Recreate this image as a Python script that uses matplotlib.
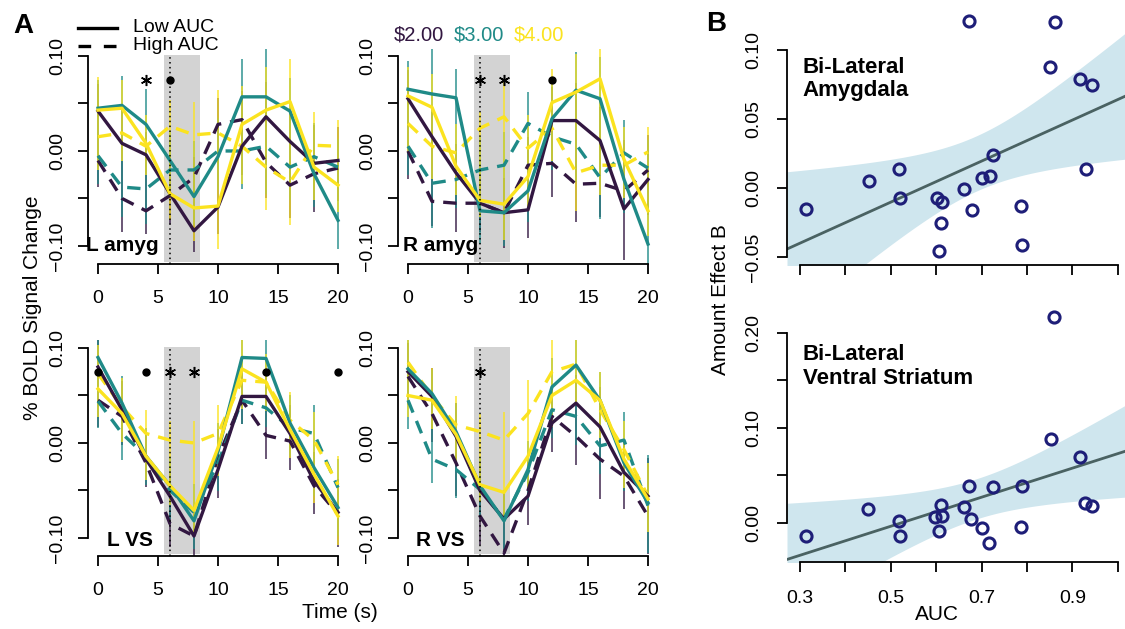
import numpy as np
import matplotlib.pyplot as plt
from matplotlib.lines import Line2D

plt.rcParams["font.family"] = ["Liberation Sans", "DejaVu Sans"]

W, H = 1125, 629

# =============================================================================
# Data
# =============================================================================

time_s = [0, 2, 4, 6, 8, 10, 12, 14, 16, 18, 20]
amounts = ["$2.00", "$3.00", "$4.00"]
amount_colors = ["#321741", "#1f8a87", "#fbe31f"]

# rows follow `amounts`: $2.00, $3.00, $4.00
l_amyg_low = [
    [0.042, 0.008, -0.004, -0.045, -0.084, -0.059, 0.005, 0.036, 0.010, -0.013, -0.010],
    [0.045, 0.048, 0.028, -0.010, -0.048, -0.006, 0.057, 0.057, 0.042, -0.024, -0.073],
    [0.043, 0.045, 0.008, -0.045, -0.060, -0.058, 0.028, 0.043, 0.052, -0.017, -0.036],
]
l_amyg_high = [
    [-0.010, -0.050, -0.063, -0.047, -0.028, 0.028, 0.033, -0.012, -0.036, -0.024, -0.018],
    [-0.005, -0.038, -0.040, -0.020, -0.020, 0.000, 0.000, 0.005, -0.017, -0.006, -0.017],
    [0.015, 0.019, 0.005, 0.026, 0.017, 0.019, 0.005, -0.017, -0.033, 0.006, 0.005],
]
l_amyg_sem = [
    [0.028, 0.035, 0.024, 0.030, 0.022, 0.028, 0.030, 0.037, 0.035, 0.040, 0.035],
    [0.030, 0.031, 0.037, 0.030, 0.030, 0.035, 0.040, 0.050, 0.035, 0.035, 0.030],
    [0.035, 0.030, 0.030, 0.028, 0.035, 0.045, 0.040, 0.045, 0.045, 0.035, 0.028],
]

r_amyg_low = [
    [0.055, 0.015, -0.023, -0.055, -0.065, -0.062, 0.032, 0.032, 0.011, -0.061, -0.030],
    [0.065, 0.060, 0.056, -0.063, -0.065, -0.042, 0.034, 0.064, 0.055, -0.030, -0.098],
    [0.058, 0.046, -0.016, -0.052, -0.056, -0.027, 0.051, 0.062, 0.076, -0.009, -0.063],
]
r_amyg_high = [
    [0.000, -0.053, -0.055, -0.055, -0.065, -0.015, -0.013, -0.035, -0.034, -0.042, -0.020],
    [0.005, -0.034, -0.030, -0.020, -0.015, 0.029, 0.015, 0.007, -0.028, -0.002, -0.018],
    [0.029, 0.005, -0.002, 0.024, 0.036, 0.003, 0.024, -0.023, -0.015, -0.015, -0.001],
]
r_amyg_sem = [
    [0.030, 0.026, 0.030, 0.030, 0.037, 0.030, 0.035, 0.040, 0.035, 0.054, 0.037],
    [0.030, 0.047, 0.030, 0.035, 0.035, 0.033, 0.035, 0.040, 0.044, 0.035, 0.030],
    [0.030, 0.035, 0.030, 0.017, 0.038, 0.035, 0.035, 0.040, 0.031, 0.034, 0.026],
]

l_vs_low = [
    [0.080, 0.035, -0.017, -0.056, -0.098, -0.028, 0.049, 0.049, 0.010, -0.040, -0.073],
    [0.090, 0.042, -0.014, -0.045, -0.082, -0.009, 0.090, 0.089, 0.021, -0.026, -0.068],
    [0.057, 0.031, -0.014, -0.045, -0.071, -0.005, 0.078, 0.064, 0.014, -0.033, -0.077],
]
l_vs_high = [
    [0.045, 0.028, -0.021, -0.085, -0.098, -0.015, 0.045, 0.008, 0.002, -0.045, -0.075],
    [0.044, 0.010, -0.014, -0.050, -0.073, -0.021, 0.045, 0.037, 0.016, 0.010, -0.047],
    [0.073, 0.038, 0.010, 0.003, 0.000, 0.010, 0.066, 0.064, 0.024, 0.003, -0.044],
]
l_vs_sem = [
    [0.028, 0.030, 0.025, 0.025, 0.025, 0.030, 0.025, 0.025, 0.030, 0.030, 0.035],
    [0.028, 0.028, 0.030, 0.030, 0.030, 0.030, 0.025, 0.020, 0.030, 0.030, 0.030],
    [0.030, 0.030, 0.025, 0.020, 0.023, 0.030, 0.030, 0.030, 0.030, 0.030, 0.030],
]

r_vs_low = [
    [0.075, 0.049, 0.007, -0.050, -0.080, -0.056, 0.021, 0.042, 0.017, -0.031, -0.056],
    [0.078, 0.052, 0.012, -0.045, -0.082, -0.028, 0.059, 0.082, 0.045, -0.021, -0.063],
    [0.050, 0.045, 0.009, -0.044, -0.052, -0.014, 0.050, 0.066, 0.045, -0.017, -0.059],
]
r_vs_high = [
    [0.070, 0.031, -0.021, -0.077, -0.116, -0.050, 0.028, 0.007, -0.017, -0.035, -0.077],
    [0.045, -0.017, -0.028, -0.049, -0.080, -0.031, 0.035, 0.028, -0.003, 0.003, -0.066],
    [0.085, 0.049, 0.019, 0.012, 0.003, 0.031, 0.075, 0.083, 0.035, -0.007, -0.056],
]
r_vs_sem = [
    [0.030, 0.030, 0.035, 0.030, 0.030, 0.030, 0.030, 0.030, 0.042, 0.035, 0.040],
    [0.030, 0.025, 0.030, 0.030, 0.030, 0.030, 0.030, 0.030, 0.030, 0.030, 0.050],
    [0.023, 0.030, 0.030, 0.018, 0.030, 0.035, 0.033, 0.025, 0.030, 0.030, 0.035],
]

# significance marks (time points)
l_amyg_stars, l_amyg_dots = [4], [6]
r_amyg_stars, r_amyg_dots = [6, 8], [12]
l_vs_stars, l_vs_dots = [6, 8], [0, 4, 14, 20]
r_vs_stars, r_vs_dots = [6], []

# panel B: one point per subject
auc = [0.313, 0.451, 0.519, 0.520, 0.601, 0.612, 0.610, 0.607, 0.662, 0.672, 0.678,
       0.700, 0.719, 0.726, 0.787, 0.790, 0.851, 0.861, 0.917, 0.944, 0.930]
amyg_effect = [-0.015, 0.005, 0.014, -0.007, -0.007, -0.010, -0.025, -0.046, -0.001, 0.121, -0.016,
               0.007, 0.009, 0.024, -0.013, -0.041, 0.088, 0.120, 0.079, 0.075, 0.014]
auc_vs = [0.313, 0.449, 0.519, 0.520, 0.598, 0.613, 0.611, 0.606, 0.661, 0.672, 0.677,
          0.700, 0.717, 0.726, 0.787, 0.789, 0.852, 0.860, 0.917, 0.928, 0.944]
vs_effect = [-0.014, 0.015, 0.002, -0.014, 0.006, 0.007, 0.019, -0.008, 0.017, 0.039, 0.004,
             -0.005, -0.021, 0.038, -0.004, 0.039, 0.088, 0.217, 0.069, 0.021, 0.018]

T_CRIT = 2.093  # t(0.975, df=19)
TICK_FS = 14


def px_axes(fig, left, top, right, bottom):
    """Add axes using pixel coordinates measured from the top-left corner."""
    return fig.add_axes([left / W, 1 - bottom / H, (right - left) / W, (bottom - top) / H])


def r_style(ax, xb, yb):
    for s in ("top", "right"):
        ax.spines[s].set_visible(False)
    ax.spines["left"].set_bounds(*yb)
    ax.spines["bottom"].set_bounds(*xb)
    for s in ("left", "bottom"):
        ax.spines[s].set_linewidth(1.3)
    ax.tick_params(direction="out", length=7, width=1.3, labelsize=TICK_FS)


def time_panel(ax, low, high, sem, stars, dots, name, name_xy):
    ax.set_xlim(-0.8, 20.8)
    ax.set_ylim(-0.119, 0.108)
    ax.fill_between([5.5, 8.5], -0.117, 0.101, color="#d3d3d3", lw=0, zorder=0)

    t = np.array(time_s)
    for c in range(3):
        lo_line = np.minimum(low[c], high[c]) - np.array(sem[c])
        hi_line = np.maximum(low[c], high[c]) + np.array(sem[c])
        ax.vlines(t, lo_line, hi_line, color=amount_colors[c], lw=1.2, alpha=0.85, zorder=1)
    for c in range(3):
        ax.plot(t, high[c], color=amount_colors[c], lw=2.4, dashes=(4, 2.7), zorder=2)
    for c in range(3):
        ax.plot(t, low[c], color=amount_colors[c], lw=2.4, zorder=3)

    ax.plot([6, 6], [-0.119, 0.101], color="black", lw=1.1, ls=(0, (1, 2.2)), zorder=4)
    ax.plot(stars, [0.075] * len(stars), ls="none", marker=(6, 2, 0), ms=8, mew=1.1,
            color="black", zorder=5)
    ax.plot(dots, [0.075] * len(dots), ls="none", marker="o", ms=5, color="black",
            zorder=5, clip_on=False)
    ax.text(name_xy[0], name_xy[1], name, fontsize=15, fontweight="bold",
            ha="left", va="center", zorder=6)

    r_style(ax, (0, 20), (-0.10, 0.10))
    ax.set_xticks([0, 5, 10, 15, 20])
    ax.set_yticks([-0.10, -0.05, 0.0, 0.05, 0.10])
    ax.set_yticklabels(["\u22120.10", "", "0.00", "", "0.10"], rotation=90, va="center")
    ax.tick_params(axis="x", pad=12)
    ax.tick_params(axis="y", pad=9)


def scatter_panel(ax, x, y, ylim, yticks, ylabels, yb, show_xlabels):
    xlim = (0.2714, 1.016)
    ax.set_xlim(*xlim)
    ax.set_ylim(*ylim)

    x = np.array(x)
    y = np.array(y)
    slope, icpt = np.polyfit(x, y, 1)
    resid = y - (icpt + slope * x)
    s = np.sqrt((resid ** 2).sum() / (len(x) - 2))
    sxx = ((x - x.mean()) ** 2).sum()
    xg = np.linspace(xlim[0], xlim[1], 200)
    yg = icpt + slope * xg
    half = T_CRIT * s * np.sqrt(1 / len(x) + (xg - x.mean()) ** 2 / sxx)
    ax.fill_between(xg, yg - half, yg + half, color="#cfe6ee", lw=0, zorder=0)
    ax.plot(xg, yg, color="#4a6262", lw=2, zorder=1)
    ax.plot(x, y, ls="none", marker="o", ms=8, mfc="none", mec="#1e1e78", mew=2.2,
            zorder=2, clip_on=False)

    r_style(ax, (0.3, 1.0), yb)
    ax.set_xticks(np.round(np.arange(0.3, 1.01, 0.1), 1))
    if show_xlabels:
        ax.set_xticklabels(["0.3", "", "0.5", "", "0.7", "", "0.9", ""])
    else:
        ax.set_xticklabels([])
    ax.set_yticks(yticks)
    ax.set_yticklabels(ylabels, rotation=90, va="center")
    ax.tick_params(axis="x", pad=13)
    ax.tick_params(axis="y", pad=11)


fig = plt.figure(figsize=(W / 100, H / 100), dpi=100)

# Panel A: BOLD time courses
ax_tl = px_axes(fig, 88.4, 48.4, 347.6, 264)
ax_tr = px_axes(fig, 398.4, 48.4, 657.6, 264)
ax_bl = px_axes(fig, 88.4, 340.4, 347.6, 556)
ax_br = px_axes(fig, 398.4, 340.4, 657.6, 556)

time_panel(ax_tl, l_amyg_low, l_amyg_high, l_amyg_sem, l_amyg_stars, l_amyg_dots,
           "L amyg", (-1.0, -0.100))
time_panel(ax_tr, r_amyg_low, r_amyg_high, r_amyg_sem, r_amyg_stars, r_amyg_dots,
           "R amyg", (-0.4, -0.100))
time_panel(ax_bl, l_vs_low, l_vs_high, l_vs_sem, l_vs_stars, l_vs_dots,
           "L VS", (0.75, -0.103))
time_panel(ax_br, r_vs_low, r_vs_high, r_vs_sem, r_vs_stars, r_vs_dots,
           "R VS", (0.67, -0.103))

# Panel B: AUC vs amount effect
ax_b1 = px_axes(fig, 787, 10, 1125, 265)
ax_b2 = px_axes(fig, 787, 310, 1125, 562)
scatter_panel(ax_b1, auc, amyg_effect, (-0.0558, 0.129),
              [-0.05, 0.0, 0.05, 0.10], ["\u22120.05", "0.00", "0.05", "0.10"],
              (-0.05, 0.10), False)
scatter_panel(ax_b2, auc_vs, vs_effect, (-0.041, 0.224),
              [0.0, 0.05, 0.10, 0.15, 0.20], ["0.00", "", "0.10", "", "0.20"],
              (0.0, 0.20), True)
ax_b1.text(0.306, 0.095, "Bi-Lateral\nAmygdala", fontsize=16, fontweight="bold",
           va="top", ha="left", linespacing=1.15)
ax_b2.text(0.306, 0.188, "Bi-Lateral\nVentral Striatum", fontsize=16, fontweight="bold",
           va="top", ha="left", linespacing=1.15)

# Labels and legends
fig.text(13 / W, 1 - 26 / H, "A", fontsize=20, fontweight="bold", va="center")
fig.text(706 / W, 1 - 24 / H, "B", fontsize=20, fontweight="bold", va="center")
fig.text(33 / W, 1 - 308 / H, "% BOLD Signal Change", fontsize=15, rotation=90,
         ha="center", va="center")
fig.text(340 / W, 1 - 613 / H, "Time (s)", fontsize=15, ha="center", va="center")
fig.text(721 / W, 1 - 300 / H, "Amount Effect B", fontsize=15, rotation=90,
         ha="center", va="center")
fig.text(937 / W, 1 - 615 / H, "AUC", fontsize=15, ha="center", va="center")

fig.add_artist(Line2D([78 / W, 117 / W], [1 - 28 / H] * 2, color="black", lw=2.4))
fig.add_artist(Line2D([78 / W, 117 / W], [1 - 46 / H] * 2, color="black", lw=2.4,
                      dashes=(3.8, 3.8)))
fig.text(133 / W, 1 - 28 / H, "Low AUC", fontsize=14, va="center")
fig.text(133 / W, 1 - 46 / H, "High AUC", fontsize=14, va="center")

for i, (amt, col) in enumerate(zip(amounts, amount_colors)):
    fig.text((394 + 60 * i) / W, 1 - 35 / H, amt.replace("$", r"\$"), color=col,
             fontsize=14.5, va="center")

fig.savefig("out.png", dpi=100)
